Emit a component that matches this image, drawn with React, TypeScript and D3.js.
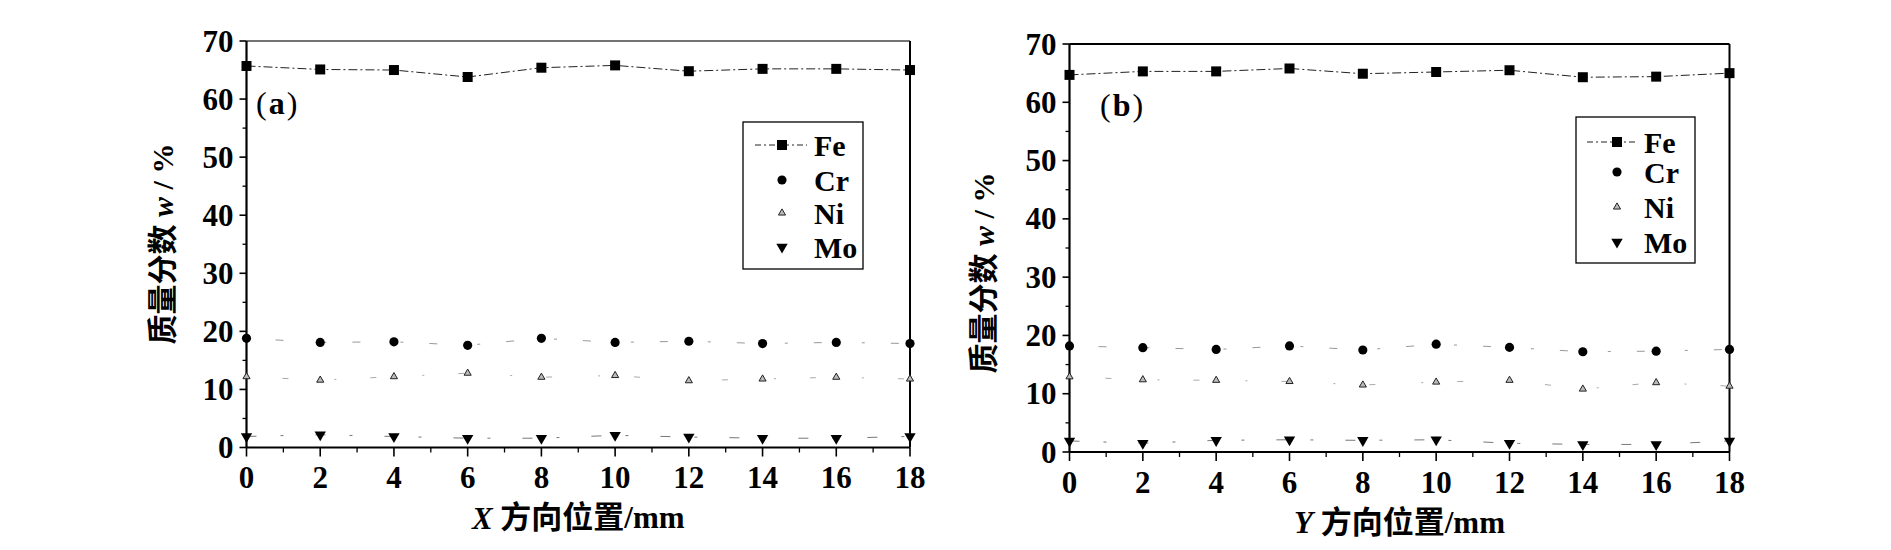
import * as d3 from 'd3';
import React from 'react';

const positions = [0, 2, 4, 6, 8, 10, 12, 14, 16, 18];
const xTicks = [0, 2, 4, 6, 8, 10, 12, 14, 16, 18];
const xMinor = [1, 3, 5, 7, 9, 11, 13, 15, 17];
const yTicks = [0, 10, 20, 30, 40, 50, 60, 70];
const yMinor = [5, 15, 25, 35, 45, 55, 65];

const feA = [65.7, 65.1, 65.0, 63.8, 65.4, 65.8, 64.8, 65.2, 65.2, 65.0];
const crA = [18.8, 18.1, 18.2, 17.6, 18.8, 18.1, 18.3, 17.9, 18.1, 17.9];
const niA = [12.2, 11.6, 12.2, 12.8, 12.1, 12.4, 11.5, 11.8, 12.1, 11.8];
const moA = [1.9, 2.2, 1.9, 1.6, 1.6, 2.1, 1.8, 1.6, 1.6, 1.9];

const feB = [64.7, 65.3, 65.3, 65.8, 64.9, 65.2, 65.5, 64.3, 64.4, 65.0];
const crB = [18.2, 17.9, 17.6, 18.2, 17.5, 18.5, 17.95, 17.2, 17.3, 17.6];
const niB = [12.9, 12.4, 12.3, 12.1, 11.5, 12.0, 12.3, 10.8, 11.9, 11.3];
const moB = [1.9, 1.5, 2.0, 2.1, 2.0, 2.1, 1.5, 1.3, 1.3, 1.9];

const legendNames = ['Fe', 'Cr', 'Ni', 'Mo'];

const serif = '"Liberation Serif", "Times New Roman", serif';
const cjk = '"Liberation Serif", "Noto Sans CJK SC", serif';

const square = d3.symbol(d3.symbolSquare, 100)()!;
const circle = d3.symbol(d3.symbolCircle, 66)()!;
const tri = d3.symbol(d3.symbolTriangle, 22)()!;
const triDown = d3.symbol(d3.symbolTriangle, 56)()!;

function Marker({ kind, x, y }: { kind: number; x: number; y: number }) {
  if (kind === 0) return <path d={square} transform={`translate(${x},${y})`} fill="#000" />;
  if (kind === 1) return <path d={circle} transform={`translate(${x},${y})`} fill="#000" />;
  if (kind === 2)
    return <path d={tri} transform={`translate(${x},${y})`} fill="#bbb" stroke="#222" strokeWidth={1} />;
  return <path d={triDown} transform={`translate(${x},${y}) rotate(180)`} fill="#000" />;
}

type PanelProps = {
  series: number[][];
  left: number; right: number; top: number; bottom: number;
  tag: string; axisName: string;
  yLabelX: number; yLabelY: number;
  legend: { x0: number; x1: number; y0: number; y1: number; symX: number; textX: number; rows: number[]; line: [number, number] };
  tagX: number; tagY: number;
  faintTop?: boolean;
};

function Panel(p: PanelProps) {
  const x = d3.scaleLinear().domain([0, 18]).range([p.left, p.right]);
  const y = d3.scaleLinear().domain([0, 70]).range([p.bottom, p.top]);
  const line = d3.line<number>().x((_, i) => x(positions[i])).y(d => y(d));
  const dashes = ['9,3,2,3', '3,26,8,40', '2,34,6,46', '10,24,3,32'];
  const lineColor = ['#222', '#999', '#aaa', '#777'];
  const cx = (p.left + p.right) / 2;
  return (
    <g>
      {p.series.map((s, k) => (
        <path key={'l' + k} d={line(s)!} fill="none" stroke={lineColor[k]} strokeWidth={1} strokeDasharray={dashes[k]} />
      ))}
      {/* frame */}
      <line x1={p.left} x2={p.right} y1={p.top} y2={p.top} stroke={p.faintTop ? '#444' : '#000'} strokeWidth={p.faintTop ? 1.4 : 2} />
      <line x1={p.right} x2={p.right} y1={p.top} y2={p.bottom} stroke="#000" strokeWidth={2} />
      <line x1={p.left} x2={p.left} y1={p.top} y2={p.bottom} stroke="#000" strokeWidth={2.2} />
      <line x1={p.left} x2={p.right} y1={p.bottom} y2={p.bottom} stroke="#000" strokeWidth={2.2} />
      {yTicks.map(t => (
        <g key={'y' + t}>
          <line x1={p.left - 7} x2={p.left} y1={y(t)} y2={y(t)} stroke="#000" strokeWidth={1.6} />
          <text x={p.left - 13} y={y(t)} textAnchor="end" dominantBaseline="central" fontFamily={serif} fontWeight="bold" fontSize={31}>{t}</text>
        </g>
      ))}
      {yMinor.map(t => (
        <line key={'ym' + t} x1={p.left - 4} x2={p.left} y1={y(t)} y2={y(t)} stroke="#000" strokeWidth={1.3} />
      ))}
      {xTicks.map(t => (
        <g key={'x' + t}>
          <line x1={x(t)} x2={x(t)} y1={p.bottom} y2={p.bottom + 9} stroke="#000" strokeWidth={1.6} />
          <text x={x(t)} y={p.bottom + 30} textAnchor="middle" dominantBaseline="central" fontFamily={serif} fontWeight="bold" fontSize={31}>{t}</text>
        </g>
      ))}
      {xMinor.map(t => (
        <line key={'xm' + t} x1={x(t)} x2={x(t)} y1={p.bottom} y2={p.bottom + 5} stroke="#000" strokeWidth={1.3} />
      ))}
      {p.series.map((s, k) => s.map((v, i) => <Marker key={k + '-' + i} kind={k} x={x(positions[i])} y={y(v)} />))}
      {/* legend */}
      <rect x={p.legend.x0} y={p.legend.y0} width={p.legend.x1 - p.legend.x0} height={p.legend.y1 - p.legend.y0} fill="#fff" stroke="#000" strokeWidth={1.3} />
      <line x1={p.legend.line[0]} x2={p.legend.line[1]} y1={p.legend.rows[0]} y2={p.legend.rows[0]} stroke="#222" strokeWidth={1} strokeDasharray="6,3,2,3" />
      {legendNames.map((n, k) => (
        <g key={n}>
          <Marker kind={k} x={p.legend.symX} y={p.legend.rows[k]} />
          <text x={p.legend.textX} y={p.legend.rows[k]} dominantBaseline="central" fontFamily={serif} fontWeight="bold" fontSize={30}>{n}</text>
        </g>
      ))}
      <text x={p.tagX} y={p.tagY} fontFamily={serif} fontSize={32} dominantBaseline="central" letterSpacing={2}>
        (<tspan fontWeight="bold">{p.tag}</tspan>)
      </text>
      <text transform={`translate(${p.yLabelX},${p.yLabelY}) rotate(-90)`} textAnchor="middle" dominantBaseline="central" fontFamily={cjk} fontWeight="bold" fontSize={30}>
        质量分数 <tspan fontStyle="italic">w</tspan> / %
      </text>
      <text x={cx} y={p.bottom + 70} textAnchor="middle" dominantBaseline="central" fontFamily={cjk} fontWeight="bold" fontSize={31}>
        <tspan fontStyle="italic">{p.axisName}</tspan> 方向位置/mm
      </text>
    </g>
  );
}

export default function App() {
  return (
    <svg width={1891} height={550} viewBox="0 0 1891 550" style={{ position: 'absolute', left: 0, top: 0, background: '#fff' }}>
      <rect width={1891} height={550} fill="#fff" />
      <Panel
        series={[feA, crA, niA, moA]}
        left={246.5} right={910} top={41} bottom={447.5}
        tag="a" axisName="X" tagX={256} tagY={103}
        yLabelX={162} yLabelY={244}
        legend={{ x0: 743, x1: 863, y0: 122, y1: 269, symX: 782, textX: 814, rows: [145, 180, 213, 247], line: [755, 807] }}
        faintTop
      />
      <Panel
        series={[feB, crB, niB, moB]}
        left={1069.5} right={1729.5} top={44} bottom={452}
        tag="b" axisName="Y" tagX={1100} tagY={105}
        yLabelX={983} yLabelY={273}
        legend={{ x0: 1576, x1: 1695, y0: 117, y1: 263, symX: 1617, textX: 1644, rows: [142, 172, 207, 242], line: [1587, 1638] }}
      />
    </svg>
  );
}
